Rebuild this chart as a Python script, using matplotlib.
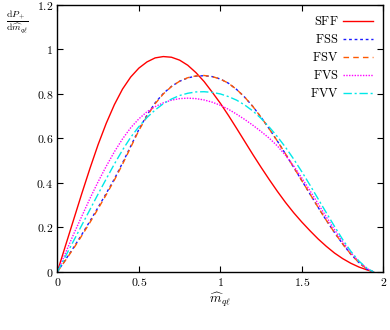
import matplotlib
matplotlib.use("Agg")
import matplotlib.pyplot as plt

plt.rcParams['mathtext.fontset'] = 'cm'
plt.rcParams['font.family'] = 'serif'
plt.rcParams['font.serif'] = ['DejaVu Serif']

# -------------------------------
# data
# -------------------------------
m_hat = [0.00, 0.05, 0.10, 0.15, 0.20, 0.25, 0.30, 0.35, 0.40, 0.45,
         0.50, 0.55, 0.60, 0.65, 0.70, 0.75, 0.80, 0.85, 0.90, 0.95,
         1.00, 1.05, 1.10, 1.15, 1.20, 1.25, 1.30, 1.35, 1.40, 1.45,
         1.50, 1.55, 1.60, 1.65, 1.70, 1.75, 1.80, 1.85, 1.90, 1.94]

sff = [0.0, 0.118, 0.235, 0.352, 0.465, 0.572, 0.668, 0.752, 0.822, 0.876,
       0.916, 0.944, 0.962, 0.968, 0.965, 0.952, 0.929, 0.896, 0.856, 0.808,
       0.758, 0.703, 0.645, 0.586, 0.527, 0.470, 0.415, 0.362, 0.312, 0.266,
       0.224, 0.185, 0.148, 0.115, 0.085, 0.060, 0.039, 0.022, 0.009, 0.0]
fss = [0.0, 0.055, 0.110, 0.168, 0.228, 0.290, 0.353, 0.418, 0.490, 0.565,
       0.640, 0.705, 0.760, 0.802, 0.834, 0.857, 0.872, 0.880, 0.882, 0.878,
       0.867, 0.848, 0.820, 0.785, 0.743, 0.695, 0.643, 0.588, 0.530, 0.470,
       0.410, 0.350, 0.290, 0.232, 0.177, 0.126, 0.080, 0.042, 0.012, 0.0]
fsv = [0.0, 0.052, 0.106, 0.163, 0.222, 0.284, 0.347, 0.413, 0.484, 0.560,
       0.636, 0.700, 0.756, 0.800, 0.833, 0.857, 0.873, 0.881, 0.883, 0.878,
       0.867, 0.848, 0.820, 0.785, 0.743, 0.695, 0.643, 0.588, 0.530, 0.470,
       0.410, 0.350, 0.290, 0.232, 0.177, 0.126, 0.080, 0.042, 0.012, 0.0]
fvs = [0.0, 0.085, 0.170, 0.250, 0.330, 0.405, 0.475, 0.540, 0.598, 0.648,
       0.688, 0.720, 0.743, 0.760, 0.772, 0.779, 0.781, 0.779, 0.773, 0.763,
       0.749, 0.731, 0.709, 0.685, 0.659, 0.631, 0.601, 0.566, 0.524, 0.476,
       0.422, 0.365, 0.306, 0.247, 0.190, 0.136, 0.087, 0.046, 0.015, 0.0]
fvv = [0.0, 0.070, 0.140, 0.210, 0.280, 0.350, 0.418, 0.485, 0.548, 0.605,
       0.653, 0.694, 0.728, 0.756, 0.777, 0.793, 0.803, 0.809, 0.810, 0.807,
       0.800, 0.788, 0.772, 0.750, 0.723, 0.690, 0.651, 0.608, 0.560, 0.507,
       0.450, 0.390, 0.328, 0.266, 0.205, 0.146, 0.093, 0.049, 0.016, 0.0]

labels = ['SFF', 'FSS', 'FSV', 'FVS', 'FVV']
xticks = [0, 0.5, 1, 1.5, 2]
yticks = [0, 0.2, 0.4, 0.6, 0.8, 1.0, 1.2]

# -------------------------------
# plot
# -------------------------------
fig = plt.figure(figsize=(3.9, 3.3), dpi=100)
ax = fig.add_axes([0.147, 0.176, 0.836, 0.809])

ax.plot(m_hat, sff, color='#ff0000', lw=1.0, ls='-', label=r'$\mathrm{%s}$' % labels[0])
ax.plot(m_hat, fss, color='#1a1aff', lw=1.0, ls=(0, (2, 2)), label=r'$\mathrm{%s}$' % labels[1])
ax.plot(m_hat, fsv, color='#ff5a00', lw=1.0, ls=(0, (4, 3)), label=r'$\mathrm{%s}$' % labels[2])
ax.plot(m_hat, fvs, color='#ff00ff', lw=1.0, ls=(0, (1, 1)), label=r'$\mathrm{%s}$' % labels[3])
ax.plot(m_hat, fvv, color='#00e8e8', lw=1.0, ls=(0, (6, 2, 1.5, 2)), label=r'$\mathrm{%s}$' % labels[4])

ax.set_xlim(0, 2)
ax.set_ylim(0, 1.2)
ax.set_xticks(xticks)
ax.set_yticks(yticks)
ax.set_xticklabels(['$%g$' % t for t in xticks], fontsize=8.5)
ax.set_yticklabels(['$%g$' % t for t in yticks], fontsize=8.5)
ax.tick_params(direction='in', top=True, right=True, length=4, width=0.8, pad=3)
for s in ax.spines.values():
    s.set_linewidth(1.0)

ax.set_xlabel(r'$\widehat{m}_{q\ell}$', fontsize=9.5, labelpad=1)
fig.text(0.045, 0.935, r'$\frac{\mathrm{d}P_+}{\mathrm{d}\widehat{m}_{q\ell}}$',
         fontsize=10, ha='center', va='center')

leg = ax.legend(loc='upper right', frameon=False, markerfirst=False,
                fontsize=9, handlelength=2.4, handletextpad=0.4,
                labelspacing=0.4, borderaxespad=0.4)

fig.savefig('out.png', dpi=100)
